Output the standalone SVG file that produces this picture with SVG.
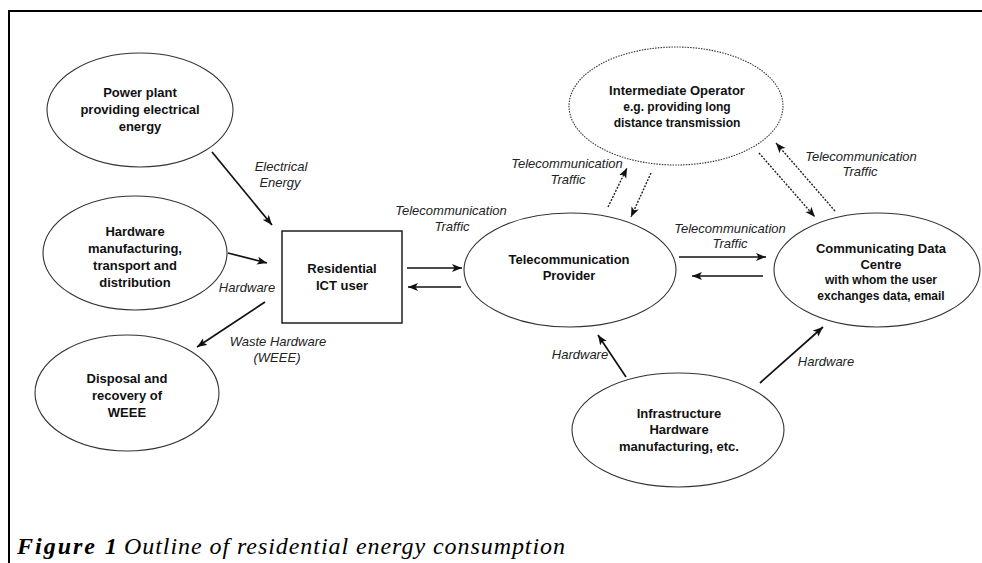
<svg xmlns="http://www.w3.org/2000/svg" width="982" height="563" viewBox="0 0 982 563">
<style>
.node ellipse{fill:#fff;stroke:#333;stroke-width:1.1}
.dotted ellipse{stroke-dasharray:1.5 1.2}
.box{fill:#fff;stroke:#111;stroke-width:1.4}
.t{font-family:"Liberation Sans",Arial,sans-serif;font-weight:bold;font-size:13px;fill:#111;text-anchor:middle}
.s{font-size:12px}
.lbl{font-family:"Liberation Sans",Arial,sans-serif;font-style:italic;font-size:13px;fill:#222;text-anchor:middle}
.a{stroke:#111;stroke-width:1.7;fill:none;marker-end:url(#ah)}
.d{stroke:#222;stroke-width:1.4;fill:none;stroke-dasharray:2 1.4;marker-end:url(#ah)}
.cap{font-family:"Liberation Serif","Times New Roman",serif;font-style:italic;font-size:24px;fill:#000}
</style>
<defs>
<marker id="ah" markerUnits="userSpaceOnUse" markerWidth="12" markerHeight="10" refX="10" refY="4" orient="auto">
<path d="M0,0 L10,4 L0,8 L2.5,4 z" fill="#111"/>
</marker>
</defs>
<rect width="982" height="563" fill="#fff"/>
<path d="M8,11 H982 M9,11 V563" stroke="#000" stroke-width="2" fill="none"/>

<g id="power-plant" class="node">
<ellipse cx="140" cy="110" rx="93" ry="57"/>
<text class="t" x="140" y="97">Power plant</text>
<text class="t" x="140" y="114">providing electrical</text>
<text class="t" x="140" y="131">energy</text>
</g>
<g id="hardware-manufacturing" class="node">
<ellipse cx="135" cy="253" rx="92" ry="57"/>
<text class="t" x="135" y="236">Hardware</text>
<text class="t" x="135" y="253">manufacturing,</text>
<text class="t" x="135" y="270">transport and</text>
<text class="t" x="135" y="287">distribution</text>
</g>
<g id="disposal" class="node">
<ellipse cx="127" cy="393" rx="92" ry="58"/>
<text class="t" x="127" y="383">Disposal and</text>
<text class="t" x="127" y="400">recovery of</text>
<text class="t" x="127" y="417">WEEE</text>
</g>
<g id="residential-user">
<rect class="box" x="282" y="231" width="120" height="92"/>
<text class="t" x="342" y="273">Residential</text>
<text class="t" x="342" y="290">ICT user</text>
</g>
<g id="telecom-provider" class="node">
<ellipse cx="570" cy="270" rx="106" ry="57"/>
<text class="t" x="569" y="264">Telecommunication</text>
<text class="t" x="569" y="280">Provider</text>
</g>
<g id="intermediate-operator" class="node dotted">
<ellipse cx="676" cy="106" rx="107" ry="59"/>
<text class="t" x="677" y="95">Intermediate Operator</text>
<text class="t s" x="677" y="111">e.g. providing long</text>
<text class="t s" x="677" y="127">distance transmission</text>
</g>
<g id="data-centre" class="node">
<ellipse cx="877" cy="270" rx="103" ry="57"/>
<text class="t" x="881" y="253">Communicating Data</text>
<text class="t" x="881" y="269">Centre</text>
<text class="t s" x="881" y="284">with whom the user</text>
<text class="t s" x="881" y="300">exchanges data, email</text>
</g>
<g id="infrastructure" class="node">
<ellipse cx="678" cy="430" rx="106" ry="57"/>
<text class="t" x="679" y="418">Infrastructure</text>
<text class="t" x="679" y="434">Hardware</text>
<text class="t" x="679" y="451">manufacturing, etc.</text>
</g>

<g id="connectors">
<line class="a" x1="212" y1="152" x2="272" y2="225"/>
<line class="a" x1="228" y1="253" x2="267" y2="263"/>
<line class="a" x1="265" y1="302" x2="197" y2="347"/>
<line class="a" x1="407" y1="268" x2="462" y2="268"/>
<line class="a" x1="461" y1="287" x2="408" y2="287"/>
<line class="a" x1="679" y1="257" x2="766" y2="257"/>
<line class="a" x1="763" y1="276" x2="692" y2="276"/>
<line class="a" x1="626" y1="377" x2="598" y2="335"/>
<line class="a" x1="760" y1="383" x2="823" y2="327"/>
<line class="d" x1="608" y1="207" x2="627" y2="168"/>
<line class="d" x1="651" y1="173" x2="631" y2="217"/>
<line class="d" x1="759" y1="153" x2="815" y2="217"/>
<line class="d" x1="835" y1="211" x2="776" y2="143"/>
<g id="connector-labels">
<text class="lbl" x="281" y="171">Electrical</text>
<text class="lbl" x="280" y="187">Energy</text>
<text class="lbl" x="247" y="292">Hardware</text>
<text class="lbl" x="278" y="346">Waste Hardware</text>
<text class="lbl" x="277" y="362">(WEEE)</text>
<text class="lbl" x="451" y="215">Telecommunication</text>
<text class="lbl" x="452" y="231">Traffic</text>
<text class="lbl" x="567" y="168">Telecommunication</text>
<text class="lbl" x="568" y="184">Traffic</text>
<text class="lbl" x="861" y="161">Telecommunication</text>
<text class="lbl" x="860" y="176">Traffic</text>
<text class="lbl" x="730" y="233">Telecommunication</text>
<text class="lbl" x="730" y="248">Traffic</text>
<text class="lbl" x="580" y="359">Hardware</text>
<text class="lbl" x="826" y="366">Hardware</text>
</g>
</g>

<text class="cap" x="17" y="554" font-weight="bold" textLength="100" lengthAdjust="spacing">Figure 1</text>
<text class="cap" x="124" y="554" textLength="441" lengthAdjust="spacing">Outline of residential energy consumption</text>
</svg>
